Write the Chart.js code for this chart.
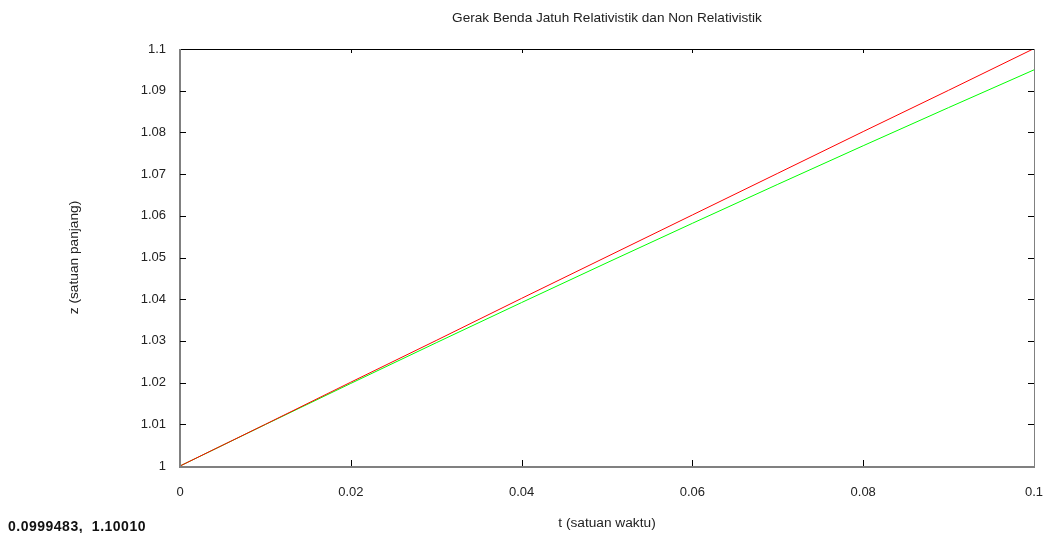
<!DOCTYPE html>
<html>
<head>
<meta charset="utf-8">
<script src="https://cdn.jsdelivr.net/npm/chart.js@4.4.0/dist/chart.umd.min.js"></script>
<style>
  html, body { margin: 0; padding: 0; background: #fff; overflow: hidden; }
  #wrap { position: relative; width: 1043px; height: 533px; }
  #readout { position: absolute; left: 8px; top: 518px; font: bold 14px "Liberation Sans", Arial, sans-serif; color: #111; letter-spacing: 0.5px; white-space: pre; }
</style>
</head>
<body>
<div id="wrap">
  <canvas id="fallChart" width="1043" height="533"></canvas>
  <div id="readout">0.0999483,  1.10010</div>
</div>
<script>
const chartTitle = 'Gerak Benda Jatuh Relativistik dan Non Relativistik';
const xTitle = 't (satuan waktu)';
const yTitle = 'z (satuan panjang)';

const times = [0, 0.01, 0.02, 0.03, 0.04, 0.05, 0.06, 0.07, 0.08, 0.09, 0.1];
const zRelativistic = [1, 1.01, 1.0201, 1.0301, 1.0402, 1.0502, 1.0602, 1.0702, 1.0802, 1.0901, 1.1001];
const zNonRelativistic = [1, 1.00995, 1.0198, 1.02955, 1.0392, 1.04875, 1.0582, 1.06755, 1.0768, 1.08595, 1.095];

const xTicks = ['0', '0.02', '0.04', '0.06', '0.08', '0.1'];
const yTicks = ['1', '1.01', '1.02', '1.03', '1.04', '1.05', '1.06', '1.07', '1.08', '1.09', '1.1'];

const FONT = '"Liberation Sans", Arial, sans-serif';

// frame, inward ticks and text the way the original plot draws them
const framePlugin = {
    id: 'frame',
    afterDraw(chart) {
        const ctx = chart.ctx;
        const a = chart.chartArea;
        const xs = chart.scales.x, ys = chart.scales.y;
        ctx.save();

        ctx.strokeStyle = '#000';
        ctx.lineWidth = 1;
        ctx.beginPath();
        ctx.moveTo(a.left, a.top + 0.5);
        ctx.lineTo(a.right, a.top + 0.5);
        ctx.stroke();

        ctx.strokeStyle = '#808080';
        ctx.lineWidth = 1;
        ctx.beginPath();
        ctx.moveTo(a.right + 0.5, a.top);
        ctx.lineTo(a.right + 0.5, a.bottom);
        ctx.stroke();

        ctx.lineWidth = 2;
        ctx.beginPath();
        ctx.moveTo(a.left, a.top);
        ctx.lineTo(a.left, a.bottom + 1);
        ctx.lineTo(a.right + 1, a.bottom + 1);
        ctx.stroke();

        ctx.strokeStyle = '#000';
        ctx.lineWidth = 1;
        ctx.beginPath();
        yTicks.forEach(t => {
            const y = Math.round(ys.getPixelForValue(parseFloat(t))) + 0.5;
            if (y < a.top + 2 || y > a.bottom - 2) return;
            ctx.moveTo(a.left, y); ctx.lineTo(a.left + 6, y);
            ctx.moveTo(a.right, y); ctx.lineTo(a.right - 6, y);
        });
        xTicks.forEach(t => {
            const x = Math.round(xs.getPixelForValue(parseFloat(t))) + 0.5;
            if (x < a.left + 2 || x > a.right - 2) return;
            ctx.moveTo(x, a.bottom); ctx.lineTo(x, a.bottom - 6);
            ctx.moveTo(x, a.top); ctx.lineTo(x, a.top + 4);
        });
        ctx.stroke();

        ctx.fillStyle = '#222';
        ctx.textAlign = 'center';
        ctx.textBaseline = 'middle';
        ctx.font = '13.6px ' + FONT;
        ctx.fillText(chartTitle, (a.left + a.right) / 2, 18);
        ctx.font = '13.7px ' + FONT;
        ctx.fillText(xTitle, (a.left + a.right) / 2, 523);
        ctx.translate(74, (a.top + a.bottom) / 2);
        ctx.rotate(-Math.PI / 2);
        ctx.fillText(yTitle, 0, 0);
        ctx.restore();
    }
};

new Chart(document.getElementById('fallChart'), {
    type: 'line',
    data: {
        labels: times,
        datasets: [{
            label: 'Relativistik',
            data: times.map((t, i) => ({ x: t, y: zRelativistic[i] })),
            borderColor: '#ff0000',
            borderWidth: 1,
            pointRadius: 0,
            fill: false
        }, {
            label: 'Non Relativistik',
            data: times.map((t, i) => ({ x: t, y: zNonRelativistic[i] })),
            borderColor: '#00ff00',
            borderWidth: 1,
            pointRadius: 0,
            fill: false
        }]
    },
    options: {
        responsive: false,
        animation: false,
        layout: { padding: { left: 0, top: 49, right: 9, bottom: 0 } },
        plugins: { legend: { display: false }, title: { display: false }, tooltip: { enabled: false } },
        scales: {
            x: {
                type: 'linear',
                min: 0, max: 0.1,
                afterFit: s => { s.height = 67; s.paddingLeft = 0; s.paddingRight = 0; },
                afterBuildTicks: s => { s.ticks = xTicks.map(t => ({ value: parseFloat(t) })); },
                grid: { display: false, drawTicks: false },
                border: { display: false },
                ticks: {
                    padding: 19,
                    color: '#222',
                    font: { family: FONT, size: 13 },
                    maxRotation: 0,
                    callback: (v, i) => xTicks[i]
                }
            },
            y: {
                min: 1, max: 1.1,
                afterFit: s => { s.width = 180; s.paddingTop = 0; s.paddingBottom = 0; },
                afterBuildTicks: s => { s.ticks = yTicks.map(t => ({ value: parseFloat(t) })); },
                grid: { display: false, drawTicks: false },
                border: { display: false },
                ticks: {
                    padding: 14,
                    color: '#222',
                    font: { family: FONT, size: 13 },
                    callback: (v, i) => yTicks[i]
                }
            }
        }
    },
    plugins: [framePlugin]
});
</script>
</body>
</html>
